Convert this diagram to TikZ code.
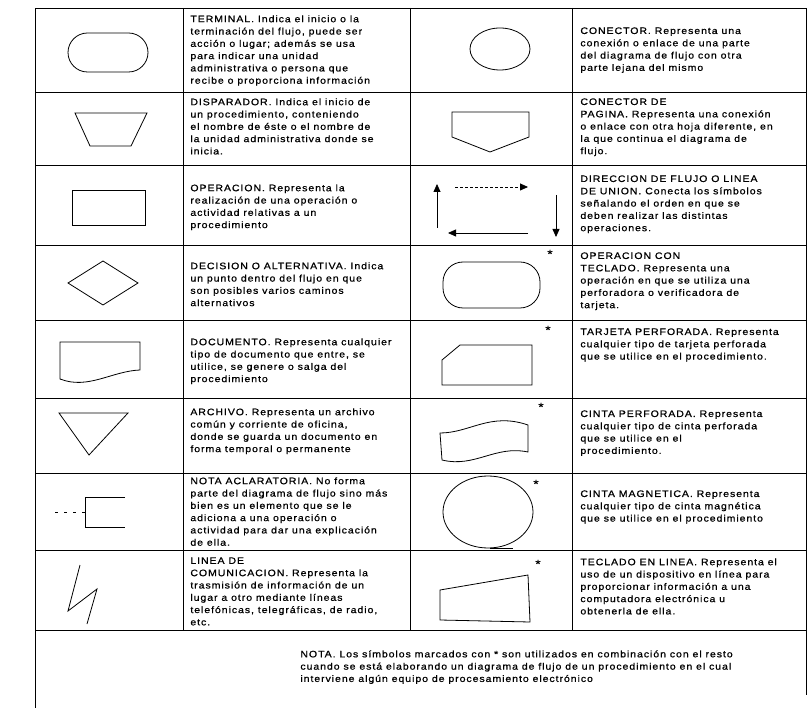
\documentclass[tikz,border=0pt]{standalone}
\usepackage{fontspec}
\setmainfont{Liberation Sans}
\newfontfamily\scanfont[FakeStretch=1.12,LetterSpace=10,FakeBold=0.8]{Liberation Sans}
\usetikzlibrary{arrows.meta}

\begin{document}
\begin{tikzpicture}[
  x=1pt, y=-1pt,
  line width=0.8pt,
  desc/.style={anchor=north west, align=left, inner sep=0pt, font=\scanfont\fontsize{9.4}{12.3}\selectfont},
  asterisk/.style={inner sep=0pt, font=\scanfont\large},
  rule/.style={line width=0.7pt},
  flow/.style={-{Triangle[length=8pt,width=7pt]}, line width=0.8pt}
]
  \useasboundingbox (0,0) rectangle (809,708);
  % frame and cell lines
  \draw[rule] (35,708) -- (35,8) -- (806,8) -- (806,695);
  \foreach \x in {183,410,572}
    \draw[rule] (\x,8) -- (\x,630);
  \foreach \y in {92,165,245,320,398,473,550,630}
    \draw[rule] (35,\y) -- (806,\y);

  % left column symbols
  \draw[rounded corners=19.5pt] (68,33) rectangle (148,72);
  \draw (75,113) -- (147,113) -- (131,146) -- (90,146) -- cycle;
  \draw (72,190) rectangle (145,225);
  \draw (68,283) -- (103,261) -- (138,283) -- (103,305) -- cycle;
  \draw (60,342) -- (140,342) -- (140,370) .. controls (112,371) and (88,390) .. (60,379) -- cycle;
  \draw (59,413) -- (128,413) -- (89,455) -- cycle;
  \draw[dash pattern=on 3pt off 6pt] (55,512) -- (85,512);
  \draw (125,497) -- (85,497) -- (85,527) -- (125,527);
  \draw (80,565) -- (68,611) -- (97,589) -- (87,624);

  % right column symbols
  \draw (500,49) ellipse [x radius=30pt, y radius=21pt];
  \draw (452,112) -- (529,112) -- (529,137) -- (490,152) -- (452,137) -- cycle;
  \coordinate (upA) at (437,228);
  \coordinate (upB) at (437,184);
  \coordinate (topA) at (455,187);
  \coordinate (topB) at (528,187);
  \coordinate (dnA) at (556,195);
  \coordinate (dnB) at (556,237);
  \coordinate (btA) at (528,233);
  \coordinate (btB) at (448,233);
  \draw[flow] (upA) -- (upB);
  \draw[flow, dash pattern=on 3pt off 2pt] (topA) -- (topB);
  \draw[flow] (dnA) -- (dnB);
  \draw[flow] (btA) -- (btB);
  \draw[rounded corners=20pt] (443,262) rectangle (540,308);
  \draw (460,345) -- (532,345) -- (532,385) -- (442,385) -- (442,360) -- cycle;
  \draw (440,433) .. controls (470,433) and (490,412) .. (528,425) -- (528,452)
        .. controls (495,445) and (475,468) .. (442,460) -- cycle;
  \draw (488,512) ellipse [x radius=45pt, y radius=36pt];
  \draw (490,548) -- (513,548);
  \draw (440,590) -- (528,575) -- (530,622) -- (440,620) -- cycle;

  \node[asterisk] (s4) at (550,254) {*};
  \node[asterisk] (s5) at (548,330) {*};
  \node[asterisk] (s6) at (541,407) {*};
  \node[asterisk] (s7) at (536,484) {*};
  \node[asterisk] (s8) at (538,564) {*};

  % descriptions, left
  \node[desc] (terminal) at (190,15) {TERMINAL. Indica el inicio o la\\terminación del flujo, puede ser\\acción o lugar; además se usa\\para indicar una unidad\\administrativa o persona que\\recibe o proporciona información};
  \node[desc] (disparador) at (190,98) {DISPARADOR. Indica el inicio de\\un procedimiento, conteniendo\\el nombre de éste o el nombre de\\la unidad administrativa donde se\\inicia.};
  \node[desc] (operacion) at (190,184) {OPERACION. Representa la\\realización de una operación o\\actividad relativas a un\\procedimiento};
  \node[desc] (decision) at (190,262) {DECISION O ALTERNATIVA. Indica\\un punto dentro del flujo en que\\son posibles varios caminos\\alternativos};
  \node[desc] (documento) at (190,338) {DOCUMENTO. Representa cualquier\\tipo de documento que entre, se\\utilice, se genere o salga del\\procedimiento};
  \node[desc] (archivo) at (190,408) {ARCHIVO. Representa un archivo\\común y corriente de oficina,\\donde se guarda un documento en\\forma temporal o permanente};
  \node[desc] (nota) at (190,477) {NOTA ACLARATORIA. No forma\\parte del diagrama de flujo sino más\\bien es un elemento que se le\\adiciona a una operación o\\actividad para dar una explicación\\de ella.};
  \node[desc] (comunicacion) at (190,557) {LINEA DE\\COMUNICACION. Representa la\\trasmisión de información de un\\lugar a otro mediante líneas\\telefónicas, telegráficas, de radio,\\etc.};

  % descriptions, right
  \node[desc] (conector) at (580,27) {CONECTOR. Representa una\\conexión o enlace de una parte\\del diagrama de flujo con otra\\parte lejana del mismo};
  \node[desc] (pagina) at (580,98) {CONECTOR DE\\PAGINA. Representa una conexión\\o enlace con otra hoja diferente, en\\la que continua el diagrama de\\flujo.};
  \node[desc] (direccion) at (580,175) {DIRECCION DE FLUJO O LINEA\\DE UNION. Conecta los símbolos\\señalando el orden en que se\\deben realizar las distintas\\operaciones.};
  \node[desc] (teclado) at (580,252) {OPERACION CON\\TECLADO. Representa una\\operación en que se utiliza una\\perforadora o verificadora de\\tarjeta.};
  \node[desc] (tarjeta) at (580,328) {TARJETA PERFORADA. Representa\\cualquier tipo de tarjeta perforada\\que se utilice en el procedimiento.};
  \node[desc] (cinta) at (580,410) {CINTA PERFORADA. Representa\\cualquier tipo de cinta perforada\\que se utilice en el\\procedimiento.};
  \node[desc] (magnetica) at (580,490) {CINTA MAGNETICA. Representa\\cualquier tipo de cinta magnética\\que se utilice en el procedimiento};
  \node[desc] (linea) at (580,558) {TECLADO EN LINEA. Representa el\\uso de un dispositivo en línea para\\proporcionar información a una\\computadora electrónica u\\obtenerla de ella.};

  \node[desc] (aviso) at (300,650) {NOTA. Los símbolos marcados con * son utilizados en combinación con el resto\\cuando se está elaborando un diagrama de flujo de un procedimiento en el cual\\interviene algún equipo de procesamiento electrónico};
\end{tikzpicture}
\end{document}
